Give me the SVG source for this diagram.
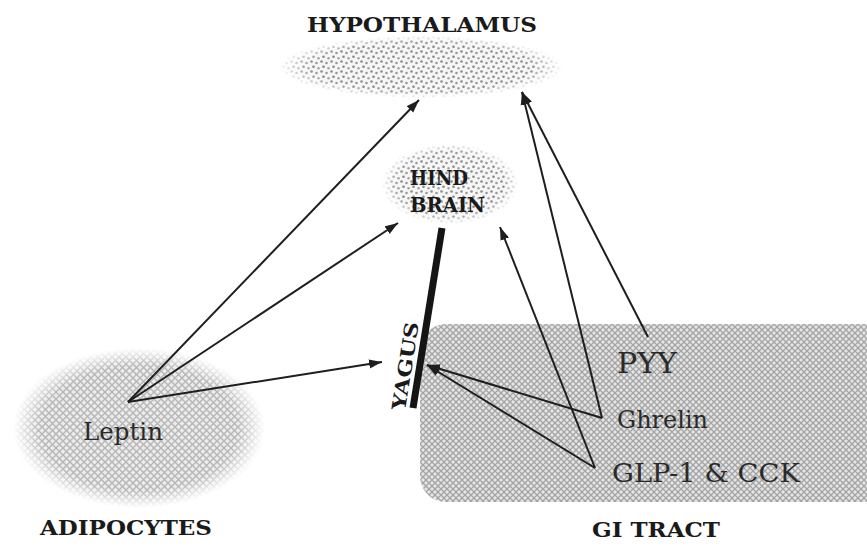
<svg xmlns="http://www.w3.org/2000/svg" width="867" height="547" viewBox="0 0 867 547">
<style>
.title{font-family:"DejaVu Serif","Liberation Serif",serif;font-weight:bold;fill:#1a1a1a}
.lbl{font-family:"DejaVu Serif","Liberation Serif",serif;fill:#2a2a2a}
.conn{stroke:#1e1e1e;stroke-width:2;fill:none}
</style>
<defs>
<pattern id="stip" width="10" height="10" patternUnits="userSpaceOnUse">
<rect width="10" height="10" fill="#f6f6f6"/>
<circle cx="1.5" cy="1.5" r="1.3" fill="#8c8c8c"/>
<circle cx="6.5" cy="3" r="1.3" fill="#999"/>
<circle cx="3.5" cy="6.8" r="1.3" fill="#888"/>
<circle cx="8.5" cy="8.2" r="1.2" fill="#a0a0a0"/>
</pattern>
<pattern id="hatch" width="6" height="6" patternUnits="userSpaceOnUse">
<rect width="6" height="6" fill="#e6e6e6"/>
<path d="M0,0 L6,6 M6,0 L0,6" stroke="#a4a4a4" stroke-width="1.3"/>
</pattern>
<pattern id="hatch2" width="7" height="7" patternUnits="userSpaceOnUse">
<rect width="7" height="7" fill="#ececec"/>
<path d="M0,0 L7,7 M7,0 L0,7" stroke="#b6b6b6" stroke-width="1.4"/>
</pattern>
<radialGradient id="fadeG" cx="0.5" cy="0.5" r="0.5">
<stop offset="0.78" stop-color="#fff"/>
<stop offset="1" stop-color="#000"/>
</radialGradient>
<mask id="fade" maskContentUnits="objectBoundingBox">
<rect width="1" height="1" fill="url(#fadeG)"/>
</mask>
<marker id="ah" markerUnits="userSpaceOnUse" markerWidth="14" markerHeight="10" refX="13" refY="5" orient="auto">
<path d="M0,0.5 L13,5 L0,9.5 z" fill="#1e1e1e"/>
</marker>
</defs>
<rect width="867" height="547" fill="#fff"/>

<g id="hypothalamus">
<ellipse cx="421" cy="67" rx="142" ry="31" fill="url(#stip)" mask="url(#fade)"/>
<text class="title" x="422" y="32" font-size="20" text-anchor="middle" textLength="230" lengthAdjust="spacingAndGlyphs">HYPOTHALAMUS</text>
</g>

<g id="hindbrain">
<ellipse cx="450" cy="184" rx="68" ry="40" fill="url(#stip)" mask="url(#fade)"/>
<text class="title" x="410" y="185" font-size="20" textLength="58" lengthAdjust="spacingAndGlyphs">HIND</text>
<text class="title" x="410" y="212" font-size="20" textLength="75" lengthAdjust="spacingAndGlyphs">BRAIN</text>
</g>

<g id="adipocytes">
<ellipse cx="139" cy="428" rx="126" ry="80" fill="url(#hatch2)" mask="url(#fade)"/>
<text class="lbl" x="83" y="440" font-size="24" textLength="80" lengthAdjust="spacingAndGlyphs">Leptin</text>
<text class="title" x="40" y="535" font-size="21" textLength="172" lengthAdjust="spacingAndGlyphs">ADIPOCYTES</text>
</g>

<g id="gitract">
<rect x="420" y="324" width="470" height="178" rx="26" fill="url(#hatch)"/>
<text class="lbl" x="617" y="373" font-size="28" textLength="60" lengthAdjust="spacingAndGlyphs">PYY</text>
<text class="lbl" x="617" y="428" font-size="24" textLength="91" lengthAdjust="spacingAndGlyphs">Ghrelin</text>
<text class="lbl" x="612" y="482" font-size="26" textLength="188" lengthAdjust="spacingAndGlyphs">GLP-1 &amp; CCK</text>
<text class="title" x="592" y="537" font-size="20" textLength="128" lengthAdjust="spacingAndGlyphs">GI TRACT</text>
</g>

<g id="vagus">
<line x1="442" y1="228" x2="413" y2="408" stroke="#151515" stroke-width="7"/>
<text class="title" x="0" y="0" font-size="19" text-anchor="middle" textLength="89" lengthAdjust="spacingAndGlyphs" transform="translate(412,367) rotate(-81)">YAGUS</text>
</g>

<g id="connectors">
<line class="conn" x1="128" y1="402" x2="419" y2="100" marker-end="url(#ah)"/>
<line class="conn" x1="128" y1="402" x2="398" y2="223" marker-end="url(#ah)"/>
<line class="conn" x1="128" y1="402" x2="382" y2="362" marker-end="url(#ah)"/>
<line class="conn" x1="648" y1="337" x2="522" y2="92" marker-end="url(#ah)"/>
<line class="conn" x1="602" y1="418" x2="522" y2="92" marker-end="url(#ah)"/>
<line class="conn" x1="595" y1="468" x2="500" y2="227" marker-end="url(#ah)"/>
<line class="conn" x1="602" y1="418" x2="427" y2="365" marker-end="url(#ah)"/>
<line class="conn" x1="595" y1="468" x2="427" y2="365" marker-end="url(#ah)"/>
</g>
</svg>
